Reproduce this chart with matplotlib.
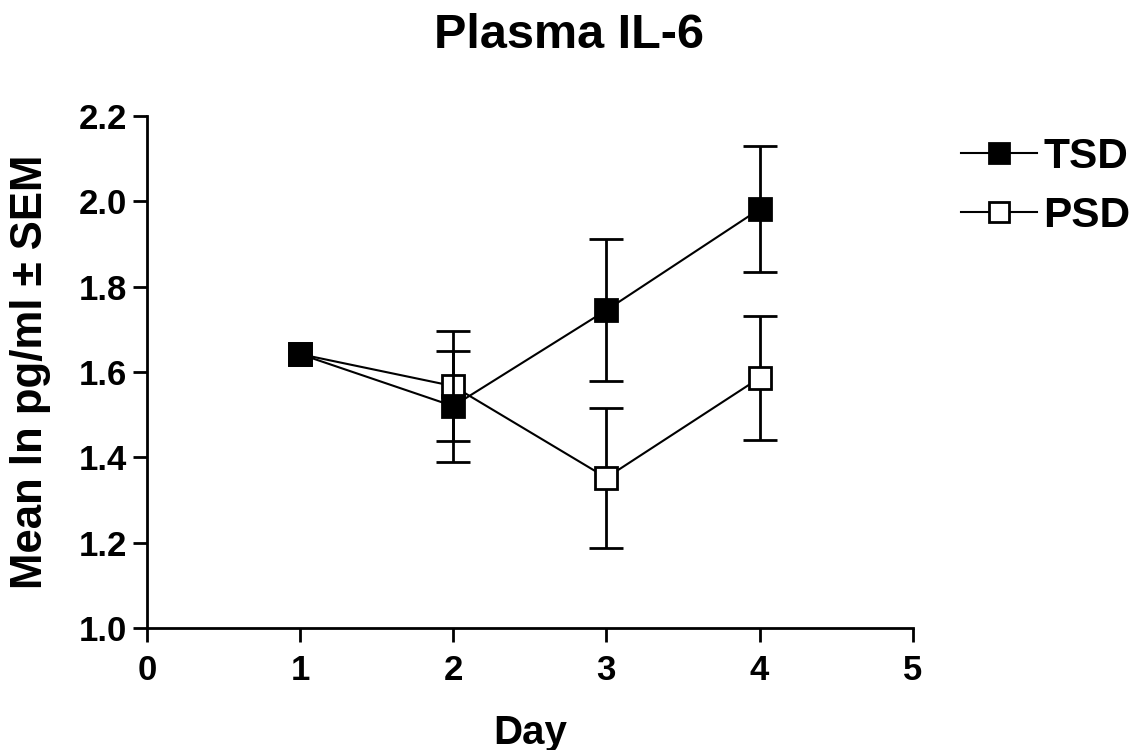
import numpy as np
import matplotlib
matplotlib.use("Agg")
import matplotlib.pyplot as plt
from matplotlib.lines import Line2D

plt.rcParams['font.family'] = ['Liberation Sans', 'DejaVu Sans']
plt.rcParams['font.weight'] = 'bold'

days = [1, 2, 3, 4]
tsd_mean = [1.642, 1.520, 1.745, 1.982]
tsd_sem = [np.nan, 0.130, 0.167, 0.148]
psd_mean = [1.642, 1.567, 1.352, 1.586]
psd_sem = [np.nan, 0.130, 0.164, 0.145]

fig = plt.figure(figsize=(11.38, 7.5), dpi=100)
ax = fig.add_axes([0.129, 0.163, 0.673, 0.682])

common = dict(color='black', linewidth=1.5, markersize=16, markeredgewidth=2,
              ecolor='black', elinewidth=2, capsize=12, capthick=2, clip_on=False)
ax.errorbar(days, psd_mean, yerr=psd_sem, marker='s', markerfacecolor='white',
            zorder=3, **common)
ax.errorbar(days, tsd_mean, yerr=tsd_sem, marker='s', markerfacecolor='black',
            zorder=4, **common)

ax.set_xlim(0, 5)
ax.set_ylim(1.0, 2.2)
ax.set_xticks([0, 1, 2, 3, 4, 5])
ax.set_yticks([1.0, 1.2, 1.4, 1.6, 1.8, 2.0, 2.2])
ax.yaxis.set_major_formatter(matplotlib.ticker.FormatStrFormatter('%.1f'))
for side in ['top', 'right']:
    ax.spines[side].set_visible(False)
for side in ['left', 'bottom']:
    ax.spines[side].set_linewidth(2)
ax.tick_params(direction='out', length=10, width=2, labelsize=25)
ax.tick_params(axis='x', pad=9)
ax.tick_params(axis='y', pad=4)

ax.set_xlabel('Day', fontsize=29, fontweight='bold', labelpad=19)
ax.set_ylabel('Mean ln pg/ml ± SEM', fontsize=31.5, fontweight='bold', labelpad=20)
fig.text(0.5, 0.952, 'Plasma IL-6', ha='center', va='center', fontsize=35, fontweight='bold')

handles = [
    Line2D([], [], color='black', linewidth=1.5, marker='s', markersize=15,
           markeredgewidth=2, markerfacecolor='black'),
    Line2D([], [], color='black', linewidth=1.5, marker='s', markersize=15,
           markeredgewidth=2, markerfacecolor='white'),
]
leg = ax.legend(handles, ['TSD', 'PSD'], loc='upper left', bbox_to_anchor=(1.063, 0.96),
                frameon=False, fontsize=30.5, handlelength=1.8, handletextpad=0.15,
                labelspacing=0.45, borderaxespad=0, borderpad=0)
for t in leg.get_texts():
    t.set_fontweight('bold')

fig.savefig('out.png', dpi=100)
